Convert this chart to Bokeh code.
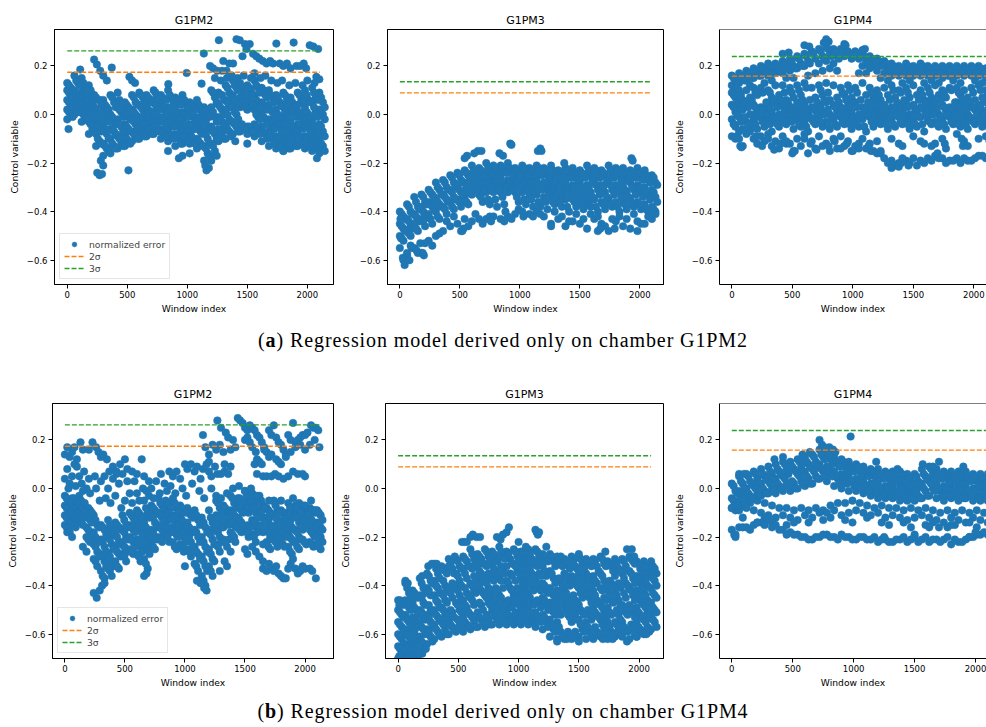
from bokeh.plotting import figure
from bokeh.layouts import row, column
from bokeh.models import (Range1d, FixedTicker, CustomJSTickFormatter, Legend,
                          LegendItem, Div, Span)
from bokeh.embed import file_html
from bokeh.resources import INLINE

BLUE = "#1f77b4"
ORANGE = "#ff7f0e"
GREEN = "#2ca02c"
N = None

# window indices on which the error traces are sampled (four interleaved grids)
WIN_A = [0, 60, 120, 180, 240, 300, 360, 420, 480, 540, 600, 660, 720, 780, 840, 900, 960, 1020,
         1080, 1140, 1200, 1260, 1320, 1380, 1440, 1500, 1560, 1620, 1680, 1740, 1800, 1860, 1920, 1980, 2040, 2100]
WIN_B = [30, 90, 150, 210, 270, 330, 390, 450, 510, 570, 630, 690, 750, 810, 870, 930, 990, 1050,
         1110, 1170, 1230, 1290, 1350, 1410, 1470, 1530, 1590, 1650, 1710, 1770, 1830, 1890, 1950, 2010, 2070, 2130]
WIN_C = [15, 75, 135, 195, 255, 315, 375, 435, 495, 555, 615, 675, 735, 795, 855, 915, 975, 1035,
         1095, 1155, 1215, 1275, 1335, 1395, 1455, 1515, 1575, 1635, 1695, 1755, 1815, 1875, 1935, 1995, 2055, 2115]
WIN_D = [45, 105, 165, 225, 285, 345, 405, 465, 525, 585, 645, 705, 765, 825, 885, 945, 1005, 1065,
         1125, 1185, 1245, 1305, 1365, 1425, 1485, 1545, 1605, 1665, 1725, 1785, 1845, 1905, 1965, 2025, 2085, 2145]

X_TICKS = [0, 500, 1000, 1500, 2000]
Y_TICKS = [-0.6, -0.4, -0.2, 0.0, 0.2]

# ---- (a) model derived on G1PM2 -------------------------------------------
A_G1PM2 = [
    [.13, .16, .15, .12, .07, .06,  .08, .09, .05, .08, .09, .08,  .10, .08, .10, .07, .08, .05,  .06, .03, .10, .09, .12, .14,  .13, .12, .14, .11, .10, .08,  .09, .07, .09, .10, .11, .09],
    [.11, .13, .11, .08, .06, .03,  .05, .04, .03, .05, .07, .06,  .08, .06, .07, .06, .04, .03,  .02, .01, .07, .08, .09, .11,  .09, .10, .11, .08, .07, .05,  .06, .04, .06, .06, .07, .05],
    [.10, .10, .09, .07, .02, .02,  .00, .03, .02, .02, .04, .04,  .06, .05, .03, .03, .01, .02,  -.01, -.02, .03, .04, .06, .08,  .07, .06, .08, .05, .04, .02,  .03, .02, .04, .03, .05, .02],
    [.08, .08, .07, .04, -.01, -.02,  -.03, .01, -.01, .00, .02, .01,  .03, .02, .01, .00, -.01, -.01,  -.03, -.05, -.01, .02, .04, .05,  .04, .05, .05, .03, .01, -.01,  .00, .01, -.01, .00, .01, .00],
    [.06, .07, .05, .02, -.03, -.04,  -.06, -.02, -.04, -.02, -.01, .01,  .01, -.01, -.02, -.03, -.02, -.04,  -.05, -.07, -.05, -.01, .02, .03,  .03, .02, .02, .01, -.02, -.03,  -.02, -.03, -.04, -.02, -.03, -.04],
    [.04, .05, .03, -.01, -.06, -.08,  -.07, -.05, -.06, -.04, -.03, -.02,  -.01, -.03, -.04, -.05, -.05, -.06,  -.07, -.10, -.08, -.03, -.02, .00,  N, N, -.01, -.02, -.05, -.05,  -.06, -.06, -.05, -.05, -.06, -.07],
    [.02, .03, .01, -.03, -.08, -.12,  -.10, -.09, -.09, -.07, -.05, -.05,  -.04, -.06, -.06, -.08, -.08, -.07,  -.10, -.13, -.12, -.06, -.05, -.03,  -.04, -.05, -.04, -.05, -.07, -.09,  -.09, -.08, -.08, -.09, -.09, -.10],
    [.00, .01, -.01, -.06, -.11, -.14,  -.13, -.12, -.11, -.09, -.08, -.07,  -.06, -.08, -.09, -.10, -.10, -.11,  -.12, -.16, -.15, -.08, -.07, -.05,  -.05, -.06, -.06, -.08, -.10, -.11,  -.12, -.11, -.11, -.11, -.12, -.13],
    [-.02, .00, -.03, -.08, -.13, -.17,  -.16, -.14, -.13, -.11, -.10, -.09,  -.08, -.10, -.11, -.13, -.12, -.12,  -.14, -.19, -.19, -.11, -.10, -.08,  -.07, -.08, -.09, -.11, -.13, -.14,  -.15, -.14, -.13, -.14, -.15, -.16],
]
A_G1PM2_FILL = [
    [.12, .14, .13, .10, .06, .04,  .07, .06, .04, .07, .08, .07,  .09, .07, .08, .06, .06, .04,  .04, .02, .09, .08, .11, .12,  .11, .11, .12, .10, .08, .07,  .08, .05, .08, .08, .09, .07],
    [.10, .12, .10, .08, .04, .02,  .03, .04, .02, .04, .05, .05,  .07, .06, .05, .04, .03, .02,  .00, -.01, .05, .06, .07, .10,  .08, .08, .09, .07, .05, .04,  .04, .03, .05, .05, .06, .03],
    [.09, .09, .08, .05, .00, .00,  -.01, .02, .00, .01, .03, .02,  .04, .03, .02, .01, .00, .00,  -.02, -.03, .01, .03, .05, .06,  .05, .05, .06, .04, .02, .00,  .01, .01, .01, .01, .03, .01],
    [.07, .07, .06, .03, -.02, -.03,  -.04, -.01, -.02, -.01, .00, .01,  .02, .00, -.01, -.02, -.01, -.03,  -.04, -.06, -.03, .00, .03, .04,  .03, .04, .03, .02, -.01, -.02,  -.01, -.01, -.03, -.01, -.01, -.02],
    [.05, .06, .04, .00, -.05, -.06,  -.06, -.04, -.05, -.03, -.02, -.01,  .00, -.02, -.03, -.04, -.04, -.05,  -.06, -.08, -.07, -.02, .00, .01,  N, N, .00, -.01, -.04, -.04,  -.04, -.05, -.04, -.04, -.05, -.05],
    [.03, .04, .02, -.02, -.07, -.10,  -.08, -.07, -.07, -.06, -.04, -.03,  -.03, -.04, -.05, -.06, -.07, -.06,  -.08, -.12, -.10, -.04, -.03, -.02,  N, N, -.02, -.04, -.06, -.07,  -.08, -.07, -.06, -.07, -.08, -.09],
    [.01, .02, .00, -.04, -.10, -.13,  -.12, -.10, -.10, -.08, -.07, -.06,  -.05, -.07, -.08, -.09, -.09, -.09,  -.11, -.14, -.13, -.07, -.06, -.04,  -.04, -.05, -.05, -.07, -.08, -.10,  -.10, -.10, -.09, -.10, -.11, -.12],
    [-.01, .01, -.02, -.07, -.12, -.15,  -.14, -.13, -.12, -.10, -.09, -.08,  -.07, -.09, -.10, -.12, -.11, -.12,  -.13, -.17, -.17, -.10, -.09, -.07,  -.06, -.07, -.08, -.10, -.12, -.13,  -.14, -.13, -.12, -.13, -.14, -.15],
]
A_G1PM2_EXTRA = [(11, -.06), (108, .185), (224, .226), (247, .206), (275, .18), (300, .16), (330, .14), (371, .193),
                 (518, .155), (540, .14), (565, .13), (842, .125), (995, .171), (1119, .127), (1138, .251), (1190, .20),
                 (1215, .19), (1250, .18), (1263, .306), (1290, .18), (1300, .22), (1327, .18), (1350, .21), (1382, .21),
                 (1410, .31), (1437, .306), (1460, .24), (1480, .29), (1493, .27), (1520, .29), (1548, .25), (1575, .24),
                 (1600, .23), (1630, .22), (1660, .21), (1690, .22), (1715, .21), (1742, .292), (1770, .21), (1800, .20),
                 (1830, .21), (1860, .19), (1886, .296), (1910, .20), (1940, .20), (1970, .21), (1990, .19), (2020, .285),
                 (2050, .28), (2075, .155), (2090, .27), (2100, .145), (250, -.24), (270, -.25), (290, -.245), (300, -.21),
                 (280, -.19), (510, -.23), (840, -.15), (930, -.18), (960, -.17), (1020, -.16), (1160, -.23), (1180, -.22),
                 (1150, -.21), (1400, -.11), (1500, -.12), (1800, -.15), (1850, -.12), (2080, -.18),
                 (1230, .15), (1280, .14), (1330, .15), (1370, .16), (1420, .15), (1470, .16), (1530, .15), (1560, .17),
                 (1610, .15), (1650, .16), (1700, .14), (1750, .13), (1790, .14), (1850, .12), (1900, .13), (1960, .12),
                 (2000, .14), (2060, .13)]

A_G1PM3 = [
    [-.40, -.37, -.34, -.33, -.31, -.28,  -.27, -.25, -.24, -.23, -.21, -.22,  -.20, -.21, -.21, -.20, -.22, -.21,  -.22, -.21, -.22, -.21, -.23, -.22,  -.22, -.23, -.21, -.22, -.23, -.21,  -.22, -.22, -.23, -.22, -.23, -.25],
    [-.42, -.40, -.38, -.36, -.33, -.31,  -.30, -.28, -.27, -.25, -.25, -.24,  -.24, -.24, -.23, -.24, -.24, -.24,  -.24, -.24, -.25, -.25, -.25, -.25,  -.26, -.25, -.25, -.25, -.25, -.25,  -.25, -.26, -.25, -.26, -.27, -.28],
    [-.45, -.43, -.41, -.38, -.36, -.35,  -.33, -.31, -.30, -.28, -.28, -.27,  -.27, -.27, -.26, -.27, -.27, -.27,  -.27, -.27, -.28, -.28, -.28, -.28,  -.29, -.28, -.29, -.28, -.29, -.28,  -.29, -.29, -.28, -.29, -.30, -.31],
    [-.47, -.46, -.43, -.41, -.38, -.37,  -.35, -.34, -.32, -.31, -.30, -.30,  -.29, -.29, -.29, -.29, -.29, -.30,  -.30, -.30, -.31, -.31, -.31, -.31,  -.32, -.32, -.32, -.31, -.32, -.31,  -.32, -.32, -.31, -.32, -.33, -.34],
    [-.50, -.48, -.45, -.43, -.41, -.40,  -.38, -.36, -.35, -.34, -.33, -.33,  -.32, -.32, -.32, -.32, -.32, -.32,  -.33, -.33, -.34, -.34, -.35, -.35,  -.35, -.35, -.36, -.35, -.36, -.35,  -.36, -.36, -.35, -.36, -.37, -.38],
    [-.52, -.50, -.48, -.46, -.45, -.43,  -.41, -.39, -.38, -.37, N, -.36,  -.37, -.38, -.37, N, -.36, -.37,  -.38, -.38, -.39, -.37, -.38, -.40,  -.38, -.39, -.38, -.40, -.39, -.38,  -.40, -.39, -.38, -.39, -.40, -.40],
    [-.55, -.58, -.55, -.57, -.52, -.50,  -.48, -.46, -.45, -.43, -.44, -.43,  -.43, -.42, -.43, -.42, -.41, -.40,  -.41, -.40, -.42, -.45, -.43, -.46,  -.44, -.45, -.47, -.43, -.45, -.48,  -.44, -.46, -.47, -.44, -.45, -.43],
    [-.60, -.54, -.57, -.53, -.54, -.49,  -.44, -.42, -.48, -.46, -.41, -.45,  -.42, N, -.44, -.43, -.39, N,  -.42, -.41, N, -.40, -.42, -.44,  -.41, -.43, -.41, -.42, -.46, -.43,  -.42, -.43, -.41, -.45, -.42, -.41],
]
A_G1PM3_FILL = [
    [-.41, -.38, -.36, -.34, -.32, -.30,  -.28, -.26, -.25, -.24, -.23, -.23,  -.22, -.22, -.22, -.22, -.23, -.22,  -.23, -.22, -.23, -.23, -.24, -.23,  -.24, -.24, -.23, -.23, -.24, -.23,  -.23, -.24, -.24, -.24, -.25, -.26],
    [-.43, -.41, -.39, -.37, -.34, -.33,  -.31, -.29, -.28, -.26, -.26, -.25,  -.25, -.25, -.24, -.25, -.25, -.25,  -.25, -.25, -.26, -.26, -.26, -.26,  -.27, -.26, -.27, -.26, -.27, -.26,  -.27, -.27, -.26, -.27, -.28, -.29],
    [-.46, -.44, -.42, -.40, -.37, -.36,  -.34, -.32, -.31, -.30, -.29, -.28,  -.28, -.28, -.28, -.28, -.28, -.28,  -.28, -.29, -.29, -.30, -.29, -.30,  -.30, -.30, -.30, -.29, -.30, -.29,  -.30, -.31, -.30, -.30, -.32, -.32],
    [-.48, -.47, -.44, -.42, -.39, -.38,  -.36, -.35, -.33, -.32, -.31, -.31,  -.30, -.31, -.30, -.31, -.30, -.31,  -.32, -.31, -.32, -.33, -.33, -.33,  -.33, -.34, -.34, -.33, -.34, -.33,  -.34, -.34, -.33, -.34, -.35, -.36],
    [-.51, -.49, -.47, -.44, -.43, -.42,  -.39, -.38, -.36, -.36, N, -.34,  -.35, -.35, -.34, N, -.34, -.35,  -.35, -.36, -.36, -.36, -.36, -.38,  -.36, -.37, -.37, -.38, -.37, -.37,  -.38, -.37, -.37, -.37, -.39, -.39],
]
A_G1PM3_EXTRA = [(40, -.62), (25, -.59), (10, -.51), (5, -.43), (200, -.58), (190, -.57), (520, -.48), (530, -.47),
                 (540, -.18), (560, -.17), (620, -.16), (650, -.15), (680, -.15), (830, -.16), (860, -.17), (920, -.12),
                 (930, -.125), (1150, -.15), (1170, -.14), (1180, -.15), (1370, -.20), (1930, -.18), (1940, -.19),
                 (1650, -.48), (1670, -.47), (1260, -.46), (1790, -.47), (1980, -.48), (760, -.44), (880, -.40),
                 (1030, -.42), (100, -.55), (140, -.56), (170, -.53), (80, -.60), (60, -.57)]

A_G1PM4 = [
    [.16, .17, .18, .19, .20, .21,  .21, .22, .23, .24, .25, .26,  .27, .28, .27, .27, .26, .26,  .25, .24, .23, .22, .21, .20,  .21, .20, .21, .20, .20, .20,  .20, .20, .20, .20, .20, .19],
    [.14, .15, .16, .17, .18, .18,  .19, .20, .20, .21, .22, .23,  .24, .25, .24, .24, .23, .23,  .22, .21, .21, .19, .19, .18,  .18, .18, .18, .18, .18, .17,  .18, .18, .17, .18, .18, .17],
    [.12, .13, .14, .15, .16, .16,  .17, .17, .18, .19, .20, N,  .21, .22, .21, N, N, N,  .20, .19, .18, .17, .16, .16,  .16, .16, .16, .16, .16, .15,  .16, .16, .16, .16, .16, .15],
    [.10, N, .12, N, .13, .14,  N, .15, .15, N, .16, .17,  .18, .19, .18, N, N, .17,  .17, N, .15, .14, N, .13,  .14, N, .13, .14, .13, N,  .14, .13, N, .14, .13, .12],
    [.09, .10, .10, .11, .11, .10,  .12, .12, .11, .12, .13, .11,  .12, .13, .12, .11, .12, .11,  .13, .11, .10, .11, .12, .10,  .11, .12, .10, .11, .12, .10,  .11, .11, .10, .11, .12, .10],
    [.07, .06, .07, .08, N, .07,  .08, .06, .07, .08, N, .07,  .08, .06, .07, .08, .07, N,  .08, .07, .06, .08, .07, N,  .07, .08, .06, .07, .08, .07,  N, .08, .07, .06, .07, .08],
    [.04, .03, .05, .04, .03, .04,  .05, .04, .03, .05, .04, .03,  .04, .05, .04, .03, .04, .05,  .03, .04, .05, .04, .03, .04,  .05, .04, .03, .05, .04, .04,  .03, .05, .04, .03, .04, .05],
    [.01, .02, .00, .01, .02, .01,  .00, .01, .02, .01, .00, .02,  .01, .00, .01, .02, .01, .00,  .01, .02, .01, .00, .01, .02,  .00, .01, .02, .01, .00, .01,  .02, .01, .00, .02, .01, .00],
    [-.02, -.01, -.03, -.02, -.01, -.02,  -.03, -.02, -.01, -.02, -.03, -.02,  -.01, -.03, -.02, -.01, -.02, -.03,  -.02, -.01, -.02, -.03, -.02, -.01,  -.02, -.03, -.01, -.02, -.03, -.02,  -.01, -.02, -.03, -.02, -.01, -.02],
    [-.05, -.06, -.04, -.06, -.05, -.07,  -.05, -.04, -.06, -.05, -.07, -.04,  -.05, -.06, -.05, -.04, -.06, -.05,  -.07, -.05, -.04, -.06, -.05, -.04,  -.06, -.05, -.07, -.04, -.05, -.06,  -.04, -.05, -.06, -.04, -.05, -.06],
    [-.09, -.07, -.08, -.10, -.09, -.08,  -.11, -.09, -.12, -.10, -.08, -.11,  -.09, -.12, -.10, -.09, -.11, -.13,  -.10, -.12, -.11, N, -.10, -.12,  N, -.09, -.11, N, -.12, -.10,  N, -.08, -.11, N, -.10, -.09],
    [-.10, -.13, -.06, -.12, -.11, -.13,  -.14, -.12, -.15, -.13, -.16, -.14,  -.13, -.15, -.14, -.13, -.15, -.12,  -.14, -.15, -.16, N, N, -.13,  N, N, -.12, N, N, -.14,  N, N, -.13, N, N, -.11],
    [N] * 21 + [-.18, -.19, -.20,  -.19, -.18, -.19, -.18, -.17, -.18,  -.19, -.18, -.18, -.19, -.17, -.18],
    [N] * 21 + [-.20, -.21, -.18,  -.20, -.21, -.20, -.19, -.18, -.20,  -.19, -.20, -.19, -.18, -.17, -.17],
]
A_G1PM4_FILL = [
    [.15, .16, .17, .18, .19, .20,  .20, .21, .22, .23, .24, .25,  .26, .27, .26, .26, .25, .25,  .24, .23, .22, .21, .20, .19,  .20, .19, .20, .19, .19, .19,  .19, .19, .19, .19, .19, .18],
    [.13, .14, .15, .16, .17, .17,  .18, .19, .19, .20, .21, N,  .23, .24, .23, N, N, N,  .21, .20, .20, .18, .18, .17,  .17, .17, .17, .17, .17, .16,  .17, .17, .17, .17, .17, .16],
    [.08, .08, N, .09, .09, .09,  N, .09, .09, .10, .11, N,  .10, .09, N, .09, .10, .09,  N, .09, .08, N, .10, .09,  .09, N, .08, .09, N, .09,  .10, .09, N, .09, .10, .09],
    [.05, .05, .06, N, .05, .06,  .06, .05, N, .06, .06, .05,  .06, N, .05, .06, .05, .06,  .05, .06, N, .06, .05, .06,  N, .06, .05, .06, .06, N,  .05, .06, .05, N, .06, .06],
    [.03, .02, .03, .03, .02, .03,  .03, .02, .03, .03, .02, .02,  .03, .02, .03, .02, .03, .03,  .02, .03, .03, .02, .02, .03,  .03, .02, .03, .03, .02, .03,  .02, .03, .02, .03, .03, .02],
    [.00, -.01, .00, -.01, .00, -.01,  -.01, .00, .00, -.01, -.01, .00,  .00, -.01, .00, .00, -.01, -.01,  .00, .00, -.01, -.01, .00, .00,  -.01, -.01, .00, .00, -.01, .00,  .00, -.01, -.01, .00, .00, -.01],
    [-.04, -.03, -.04, -.04, -.03, -.04,  -.04, -.03, -.03, -.04, -.05, -.03,  -.03, -.04, -.04, -.03, -.04, -.04,  -.05, -.03, -.03, -.04, -.04, -.03,  -.04, -.04, -.04, -.03, -.04, -.04,  -.03, -.04, -.04, -.03, -.03, -.04],
]
A_G1PM4_EXTRA = [(70, -.13), (80, -.135), (600, .285), (640, .28), (780, .31), (800, .30), (760, .295), (930, .29),
                 (940, .285), (1100, .27), (1080, .265), (420, .25), (470, .255), (1320, -.22), (1380, -.215),
                 (1400, -.20), (1460, -.21), (250, -.13), (350, -.145), (500, -.16), (520, -.15), (700, -.145),
                 (900, -.14), (1000, -.15), (1130, -.13), (1200, -.16), (1230, -.15), (1650, -.13), (1700, -.16),
                 (1760, -.12), (1900, -.10), (1910, -.13), (20, -.04), (40, -.09), (60, -.10), (150, -.07), (200, -.09),
                 (300, -.10), (400, -.12), (450, -.11), (600, -.10), (650, -.12), (800, -.13), (850, -.11), (950, -.12),
                 (1050, -.14), (1150, -.15)]

# ---- (b) model derived on G1PM4 -------------------------------------------
B_G1PM2 = [
    [-.03, -.04, -.03, -.08, -.11, -.15,  -.13, -.14, -.11, -.10, -.09, -.05,  -.07, -.04, -.05, -.04, -.07, -.08,  -.09, -.12, -.09, -.05, -.07, -.03,  -.04, -.01, -.02, -.03, -.08, -.05,  -.09, -.06, -.07, -.07, -.08, -.09],
    [-.05, -.05, -.06, -.09, -.15, -.17,  -.17, -.16, -.15, -.12, -.11, -.10,  -.09, -.07, -.07, -.08, -.09, -.11,  -.13, -.16, -.14, -.08, -.09, -.06,  -.05, -.05, -.04, -.07, -.10, -.09,  -.10, -.10, -.09, -.10, -.09, -.11],
    [-.07, -.07, -.07, -.11, -.18, -.21,  -.20, -.19, -.17, -.15, -.14, -.14,  -.11, -.10, -.09, -.11, -.12, -.14,  -.17, -.20, -.17, -.11, -.11, -.09,  -.07, -.07, -.07, -.09, -.12, -.11,  -.13, -.13, -.11, -.12, -.12, -.14],
    [-.09, -.09, -.09, -.13, -.21, -.24,  -.23, -.22, -.20, -.17, -.17, -.18,  -.14, -.12, -.12, -.14, -.15, -.17,  -.20, -.24, -.21, -.14, -.14, -.11,  -.09, -.10, -.10, -.12, -.15, -.14,  N, -.16, -.14, -.14, -.14, -.16],
    [-.11, -.10, -.10, -.16, -.23, -.27,  -.27, -.24, -.22, -.20, -.21, -.21,  -.17, -.15, -.14, -.16, -.17, -.19,  -.24, -.28, -.25, -.17, -.16, -.13,  -.12, N, -.13, -.15, -.17, -.16,  -.17, -.18, -.17, -.17, -.17, -.18],
    [-.13, -.12, -.12, -.18, -.26, -.30,  -.30, -.27, -.25, -.22, -.24, -.25,  -.20, -.17, -.17, -.19, -.20, -.22,  -.27, -.32, -.29, -.20, N, -.15,  -.14, -.15, -.16, -.18, -.20, -.19,  -.19, -.21, -.20, N, -.19, -.20],
    [-.15, -.14, -.13, -.20, -.29, -.34,  -.33, -.30, -.27, -.25, -.27, -.29,  -.22, -.20, -.19, -.22, -.23, -.25,  -.31, -.36, -.32, -.23, -.21, -.18,  -.16, -.17, -.19, N, -.22, -.21,  -.22, -.24, -.22, -.21, -.22, -.23],
    [-.17, -.16, -.15, -.22, -.32, -.37,  -.36, -.33, -.30, -.27, -.30, -.33,  -.25, -.22, -.22, -.25, -.26, -.28,  -.34, -.40, -.36, -.26, -.24, -.20,  -.18, -.20, -.22, -.23, -.25, -.24,  -.24, -.27, -.25, -.23, -.24, -.25],
]
B_G1PM2_FILL = [
    [-.04, -.04, -.05, -.08, -.13, -.16,  -.15, -.15, -.13, -.11, -.10, -.08,  -.08, -.06, -.06, -.06, -.08, -.10,  -.11, -.14, -.12, -.06, -.08, -.04,  -.04, -.03, -.03, -.05, -.09, -.07,  -.10, -.08, -.08, -.08, -.09, -.10],
    [-.06, -.06, -.06, -.10, -.16, -.19,  -.18, -.17, -.16, -.13, -.12, -.12,  -.10, -.09, -.08, -.10, -.10, -.12,  -.15, -.18, -.16, -.10, -.10, -.08,  -.06, -.06, -.06, -.08, -.11, -.10,  -.12, -.12, -.10, -.11, -.10, -.13],
    [-.08, -.08, -.08, -.12, -.20, -.22,  -.21, -.20, -.18, -.16, -.15, -.16,  -.12, -.11, -.10, -.12, -.13, -.16,  -.18, -.22, -.19, -.12, -.12, -.10,  -.08, -.08, -.08, -.10, -.13, -.12,  -.14, -.14, -.12, -.13, -.13, -.15],
    [-.10, -.10, -.10, -.14, -.22, -.26,  -.25, -.23, -.21, -.18, -.19, -.20,  -.16, -.13, -.13, -.15, -.16, -.18,  -.22, -.26, -.23, -.16, -.15, -.12,  -.10, N, -.12, -.14, -.16, -.15,  -.16, -.17, -.16, -.15, -.16, -.17],
    [-.12, -.11, -.11, -.17, -.24, -.28,  -.28, -.26, -.24, -.21, -.22, -.23,  -.18, -.16, -.16, -.18, -.18, -.20,  -.26, -.30, -.27, -.18, N, -.14,  -.13, N, -.14, -.16, -.18, -.18,  -.18, -.20, -.18, N, -.18, -.19],
    [-.14, -.13, -.12, -.19, -.28, -.32,  -.32, -.28, -.26, -.24, -.26, -.27,  -.21, -.18, -.18, -.20, -.22, -.24,  -.29, -.34, -.30, -.22, -.21, -.16,  -.15, -.16, -.18, N, -.21, -.20,  -.20, -.22, -.21, N, -.20, -.22],
    [-.16, -.15, -.14, -.21, -.30, -.36,  -.34, -.32, -.28, -.26, -.28, -.31,  -.24, -.21, -.20, -.24, -.24, -.26,  -.32, -.38, -.34, -.24, -.22, -.19,  -.17, -.18, -.20, N, -.24, -.22,  -.23, -.26, -.24, -.22, -.23, -.24],
]
B_G1PM2_EXTRA = [
    # upper-left group
    (0, .14), (20, .17), (40, .13), (60, .15), (80, .17), (100, .12), (130, .19), (150, .16), (200, .16), (230, .19),
    (260, .17), (280, .15), (300, .13), (320, .14), (350, .12), (370, .07), (400, .09), (430, .07), (460, .10),
    (500, .12), (520, .08), (560, .07), (600, .06), (640, .12), (660, .05), (700, .03),
    # middle scatter
    (0, .04), (20, .08), (40, .02), (60, .05), (80, .10), (100, .09), (120, .05), (140, .02), (160, .07), (180, .00),
    (200, .04), (250, .05), (300, .03), (330, .05), (360, .00), (400, .04), (430, .06), (450, .02), (480, .06),
    (520, .03), (540, -.02), (580, .03), (620, -.05), (650, .00), (700, -.03), (760, .03), (800, .06), (830, .02),
    (870, .07), (900, .05), (930, .07), (960, .04), (1000, .10), (1020, .08), (1050, .10), (1080, .07), (1100, .09),
    (1130, .04), (1150, .08), (1180, .10), (1200, .07), (380, -.06), (420, -.03), (470, -.08), (500, -.05),
    (560, -.06), (600, -.02), (680, -.01), (720, .00), (740, -.04), (790, -.02), (850, -.01), (880, .01), (920, -.02),
    (980, .00), (1010, -.03), (1060, .02), (1120, -.01), (1160, -.04), (1220, .00), (30, .00), (90, .01), (150, -.01),
    (210, -.02), (260, .00), (290, -.05), (340, -.04),
    # upper band on the right
    (1150, .22), (1170, .17), (1200, .14), (1230, .18), (1260, .16), (1270, .28), (1290, .18), (1300, .25),
    (1320, .15), (1340, .23), (1360, .21), (1380, .16), (1400, .20), (1420, .17), (1440, .29), (1460, .28),
    (1480, .27), (1500, .25), (1520, .24), (1540, .26), (1560, .25), (1580, .24), (1600, .22), (1620, .21),
    (1640, .19), (1660, .17), (1680, .15), (1700, .24), (1720, .22), (1740, .26), (1760, .21), (1780, .19),
    (1800, .18), (1820, .16), (1840, .14), (1860, .22), (1880, .20), (1900, .27), (1920, .19), (1940, .20),
    (1960, .21), (1980, .22), (2000, .22), (2020, .23), (2050, .26), (2070, .25), (2090, .25), (2110, .24),
    (2120, .17), (1500, .20), (1520, .21), (1540, .19), (1560, .17), (1590, .15), (1600, .12), (1620, .11),
    (1640, .10), (1660, .16), (1700, .13), (1720, .14), (1760, .12), (1780, .11), (1800, .10), (1840, .13),
    (1880, .15), (1920, .17), (1960, .18), (2000, .16), (2040, .18), (2080, .20),
    (1270, .06), (1300, .06), (1330, .07), (1360, .06), (1380, .09), (1580, .10), (1600, .06), (1650, .05),
    (1680, .05), (1720, .05), (1750, .06), (1780, .05), (1820, .04), (1860, .05), (1900, .07), (1940, .06),
    (1980, .06), (2000, .05), (1330, .10), (1250, .09), (1220, .05), (1200, .11),
    (1260, -.03), (1300, -.04), (1350, -.02), (1400, .00), (1450, .01), (1500, -.01), (1550, .00), (1600, -.03),
    (1700, -.05), (1750, -.06), (1800, -.05), (1900, -.04), (1950, -.06), (2000, -.07), (2050, -.05), (2090, -.09),
    # lower streaks and extremes
    (1560, -.24), (1590, -.26), (1620, -.28), (1650, -.30), (1500, -.25), (1520, -.27), (1650, -.33), (1680, -.34),
    (1700, -.31), (1720, -.33), (1740, -.34), (1760, -.32), (1780, -.35), (1800, -.36), (1820, -.37), (1840, -.37),
    (1860, -.33), (1880, -.31), (1900, -.29), (1920, -.33), (1940, -.35), (1960, -.34), (1980, -.32), (2000, -.33),
    (2040, -.33), (2060, -.34), (2090, -.37), (2100, -.23), (2110, -.20), (1290, -.34), (1330, -.30), (1350, -.32),
    (1380, -.26), (1420, -.22), (240, -.43), (265, -.45), (290, -.42), (310, -.40), (330, -.39), (1180, -.42),
    (1160, -.41), (1130, -.39), (1100, -.38), (20, -.18), (40, -.18), (60, -.20), (150, -.24), (180, -.26),
    (660, -.36), (680, -.35), (1000, -.32)]

B_G1PM3 = [
    [-.46, -.39, -.42, -.37, -.35, -.31,  -.32, -.29, -.29, -.28, -.25, -.27,  -.25, -.26, -.24, -.26, -.25, -.26,  -.25, -.25, -.27, -.27, -.28, -.29,  -.28, -.28, -.29, -.29, -.28, -.30,  -.29, -.29, -.28, -.30, -.30, -.31],
    [-.47, -.43, -.44, -.41, -.38, -.35,  -.34, -.33, -.32, -.30, -.29, -.29,  -.28, -.28, -.28, -.29, -.28, -.28,  -.29, -.28, -.29, -.30, -.31, -.31,  -.32, -.31, -.31, -.32, -.31, -.32,  -.33, -.32, -.30, -.33, -.34, -.33],
    [-.50, -.46, -.47, -.44, -.41, -.38,  N, N, -.35, -.33, -.32, -.32,  -.31, -.31, N, -.32, -.31, -.31,  -.32, -.31, -.32, -.34, N, -.35,  -.36, -.35, -.35, -.36, -.35, N,  -.36, -.35, -.34, -.36, -.37, -.36],
    [-.52, -.49, -.50, -.47, -.44, -.41,  -.40, -.39, -.38, -.37, -.36, -.35,  -.35, -.34, -.34, -.35, -.34, -.34,  -.35, -.35, -.36, -.37, -.38, -.38,  -.39, -.38, -.38, -.39, -.38, -.39,  -.39, -.39, -.37, -.39, -.40, -.38],
    [-.55, -.52, -.53, -.50, N, -.44,  -.43, -.42, -.41, N, -.39, -.38,  -.38, -.37, -.37, -.38, N, -.37,  -.38, -.38, -.39, -.41, -.42, -.42,  N, -.41, -.42, -.42, -.41, -.42,  -.42, N, -.41, -.42, -.43, -.41],
    [-.57, -.55, -.56, -.53, -.50, -.47,  -.46, -.45, -.44, -.43, -.42, -.42,  -.41, -.41, -.41, -.41, -.41, -.41,  -.41, -.41, -.42, -.44, -.45, -.45,  -.46, -.45, -.45, -.46, -.45, -.46,  -.46, -.45, -.44, -.46, -.46, -.44],
    [-.60, -.58, -.58, -.55, -.52, -.50,  -.49, N, -.47, -.46, -.45, N,  -.44, -.44, -.44, N, -.44, -.44,  -.44, N, -.45, -.47, -.48, -.48,  -.49, -.48, N, -.49, -.48, -.49,  N, -.48, -.48, -.49, -.48, -.47],
    [-.62, -.61, -.61, -.58, -.55, -.53,  -.52, -.51, -.50, -.49, -.48, -.48,  -.47, -.47, -.47, -.47, -.47, -.47,  -.47, -.47, -.48, -.51, -.52, -.52,  -.52, -.51, -.52, -.52, -.51, -.52,  -.52, -.51, -.51, -.52, -.51, -.50],
    [-.65, -.64, -.64, -.61, -.58, -.56,  -.55, -.54, N, -.53, -.52, -.51,  N, -.50, -.50, -.50, N, -.50,  -.50, -.51, -.52, -.54, -.55, N,  -.55, -.54, -.55, N, -.54, -.55,  -.55, -.55, N, -.55, -.54, -.52],
    [-.67, -.67, -.67, -.64, -.61, -.59,  -.58, -.57, -.56, -.56, -.55, -.54,  -.54, -.53, -.53, -.53, -.53, -.53,  -.53, -.54, -.55, -.58, -.59, -.59,  -.59, -.58, -.59, -.59, -.58, -.59,  -.58, -.58, -.58, -.58, -.57, -.55],
    [-.70, -.70, -.70, -.67, -.64, -.62,  -.61, -.60, -.59, -.59, -.58, -.57,  -.57, -.56, -.56, -.56, -.56, -.56,  -.56, -.57, -.58, -.61, -.62, -.62,  -.62, -.61, -.62, -.62, -.61, -.62,  -.61, -.61, -.62, -.61, -.60, -.58],
]
B_G1PM3_FILL = [
    [-.46, -.41, -.43, -.39, -.36, -.33,  -.33, -.31, -.30, -.29, -.27, -.28,  -.26, -.27, -.26, -.27, -.26, -.27,  -.27, -.26, -.28, -.28, -.29, -.30,  -.30, -.29, -.30, -.30, -.29, -.31,  -.31, -.30, -.29, -.31, -.32, -.32],
    [-.48, -.45, -.45, -.43, -.39, -.37,  -.35, -.35, -.33, -.32, -.30, -.31,  -.29, -.30, -.29, -.31, -.29, -.30,  -.30, -.30, -.30, -.32, -.32, -.33,  -.33, -.33, -.32, -.34, -.32, -.34,  -.34, -.34, -.31, -.35, -.35, -.35],
    [-.51, -.47, -.49, -.45, -.42, -.40,  -.38, N, -.36, -.35, -.33, -.34,  -.32, -.33, -.32, N, -.32, -.33,  -.33, -.32, -.34, -.35, -.37, -.36,  -.37, -.37, -.36, -.38, -.36, -.38,  N, -.37, -.35, -.37, -.38, -.37],
    [-.53, -.50, -.52, -.48, N, -.43,  -.41, -.40, -.40, N, -.37, -.37,  -.36, -.36, -.35, -.36, -.35, -.36,  -.36, -.36, N, -.39, -.40, -.40,  -.40, -.40, -.40, N, -.40, -.40,  -.41, -.40, -.39, -.41, -.41, -.40],
    [-.56, -.54, -.54, -.51, -.48, -.46,  -.44, -.43, -.42, -.41, -.40, -.40,  -.39, -.38, -.38, -.39, -.38, -.39,  -.39, -.39, -.40, -.42, -.43, -.43,  -.44, -.43, -.43, -.44, -.42, -.44,  -.44, -.43, -.42, -.44, -.44, -.43],
    [-.59, -.56, -.57, -.54, -.51, -.49,  -.47, N, -.46, -.44, -.43, -.43,  -.42, -.42, N, -.42, -.42, -.43,  -.42, -.42, -.43, -.46, -.46, -.47,  -.47, N, -.47, -.47, -.46, -.47,  -.48, N, -.46, -.47, -.47, -.45],
    [-.61, -.60, -.59, -.57, -.53, -.52,  -.50, -.50, -.48, -.48, -.46, -.47,  -.45, -.46, -.45, -.46, -.45, -.46,  -.45, -.46, -.46, -.49, -.50, -.50,  -.50, -.50, -.50, -.51, -.49, -.51,  -.50, -.50, -.49, -.51, -.49, -.49],
    [-.64, -.62, -.63, -.60, -.57, -.54,  -.53, -.53, -.51, -.51, N, -.50,  -.48, -.49, -.48, -.49, -.48, -.49,  -.48, -.49, -.50, -.52, N, -.53,  -.54, -.52, -.54, -.53, -.53, N,  -.54, -.52, -.53, -.53, -.53, -.51],
    [-.66, -.66, -.65, -.63, -.59, -.58,  -.56, -.56, -.54, -.55, -.53, -.53,  -.52, -.52, -.51, -.52, -.51, -.52,  -.51, -.53, -.53, -.56, -.57, N,  N, -.56, -.57, -.57, -.56, -.57,  -.56, -.57, -.56, -.57, -.55, -.54],
    [-.69, -.68, -.69, -.66, -.63, -.60,  -.60, -.58, -.58, -.57, -.57, -.55,  -.56, -.54, -.55, -.54, -.55, -.54,  -.55, -.55, -.57, -.59, -.61, -.60,  -.61, -.59, -.61, -.60, -.60, -.60,  -.60, -.59, -.60, -.59, -.59, -.57],
]
B_G1PM3_EXTRA = [(530, -.22), (550, -.22), (570, -.22), (600, -.20), (620, -.19), (650, -.20), (680, -.20), (820, -.20),
                 (850, -.21), (870, -.19), (900, -.18), (920, -.16), (1000, -.22), (1060, -.24), (1140, -.17),
                 (1150, -.18), (1160, -.19), (1170, -.18), (1230, -.24), (1350, -.28), (1500, -.27), (1720, -.26),
                 (1900, -.25), (1940, -.25), (1960, -.28), (2100, -.30), (60, -.38), (80, -.39), (40, -.47), (10, -.48),
                 (200, -.36), (250, -.32), (280, -.31), (320, -.31), (350, -.33), (420, -.32), (470, -.28),
                 (1320, -.63), (1400, -.62), (1500, -.63), (1700, -.62), (1780, -.62), (1900, -.63), (1980, -.61),
                 (2060, -.60), (200, -.68), (230, -.66), (150, -.69), (100, -.69), (10, -.69), (30, -.68), (50, -.70),
                 (70, -.69), (90, -.68), (110, -.69), (130, -.70), (170, -.68), (45, -.66), (85, -.65), (125, -.66),
                 (165, -.66)]

B_G1PM4 = [
    [.02, .05, .06, .07, .08, .09,  .10, .11, .11, .12, .13, .14,  .16, .15, .13, .12, .11, .10,  .09, .08, .08, .07, .07, .07,  .06, .06, .08, .09, .08, .07,  .07, .07, .07, .06, .06, .06],
    [-.01, .02, .03, .04, .05, .06,  .07, .08, .08, .09, .10, .11,  .13, .12, .10, .09, .08, .07,  .06, .05, .05, .04, .04, .04,  .03, .03, .05, .06, .05, .04,  .04, .04, .04, .03, .03, .03],
    [-.04, -.01, .00, .01, .02, .03,  .04, .05, N, .06, .07, .08,  .10, .09, .07, .06, .05, .04,  .03, .02, .02, .01, .01, .01,  .00, .00, .02, .03, .02, .01,  .01, .01, .01, .00, .00, .00],
    [-.06, -.03, -.03, -.02, -.01, .00,  .01, .02, .02, .03, .04, .05,  .07, .06, .04, .03, N, .01,  .00, -.01, -.01, -.02, -.02, -.02,  -.03, -.03, -.01, .00, -.01, -.02,  -.02, -.02, -.02, -.03, -.03, -.03],
    [-.08, -.05, -.05, -.04, -.03, -.02,  -.02, -.01, -.01, .00, .01, .02,  .04, .03, .01, .00, -.01, -.01,  -.02, -.03, -.04, -.04, -.04, -.05,  -.05, -.05, -.04, -.03, -.04, -.05,  -.04, -.05, -.04, -.05, -.05, -.05],
    [-.09, -.07, -.06, -.05, -.06, -.07,  -.08, -.08, -.09, -.08, -.09, -.08,  -.09, -.07, -.06, -.06, -.05, -.06,  -.07, -.08, -.07, -.08, -.08, -.09,  -.08, -.09, -.08, -.09, -.10, -.09,  -.10, -.09, -.10, -.09, -.10, -.10],
    [-.08, -.09, -.08, -.09, -.10, -.11,  -.12, -.11, -.12, -.13, -.11, -.12,  -.10, -.10, -.09, -.11, -.10, -.09,  -.10, -.11, -.10, -.12, -.11, -.12,  -.13, -.12, -.11, -.12, -.13, -.14,  -.12, -.13, -.14, -.12, -.13, -.14],
    [N, -.12, N, -.14, -.12, -.14,  N, -.15, -.14, N, -.14, N,  -.13, -.12, N, -.13, -.14, N,  -.12, N, -.14, -.15, N, -.14,  -.16, N, -.15, -.14, N, -.16,  -.15, N, -.14, -.16, N, -.15],
    [-.17, -.16, -.16, -.15, -.14, -.13,  -.15, -.17, -.18, -.19, -.20, -.21,  -.20, -.19, -.20, -.19, -.20, -.21,  -.20, -.21, -.22, -.21, -.22, -.21,  -.22, -.20, -.21, -.22, -.21, -.21,  -.23, -.22, -.21, -.20, -.19, -.19],
    [-.19, -.16, -.17, -.14, -.15, -.16,  -.17, -.19, -.19, -.20, -.21, -.20,  -.19, -.20, -.21, -.20, -.21, -.20,  -.21, -.20, -.21, -.22, -.21, -.20,  -.21, -.22, -.20, -.21, -.22, -.20,  -.21, -.22, -.20, -.19, -.18, N],
]
B_G1PM4_FILL = [
    [.01, .03, .05, .06, .06, .07,  .08, .10, .09, .11, .11, .13,  .14, .14, .11, .11, .09, .09,  .07, .07, .06, .06, .05, .06,  .04, .05, .06, .08, .06, .06,  .05, .06, .05, .05, .04, .05],
    [-.02, .00, .02, .02, .04, .04,  .06, .06, .07, .07, .09, .09,  .12, .10, .09, .07, .07, .05,  .05, .03, .04, .02, .03, .02,  .02, .01, .04, .04, .04, .02,  .03, .02, .03, .01, .02, .01],
    [-.05, -.02, -.02, .00, .00, .02,  .02, .04, .03, .05, .05, .07,  .08, .08, .05, .05, .03, .03,  .01, .01, .00, .00, -.01, .00,  -.02, -.01, .00, .02, .00, .00,  -.01, .00, -.01, -.01, -.02, -.01],
    [-.07, -.04, -.04, -.03, -.02, -.01,  .00, .01, .00, .02, .02, .04,  .05, .05, .02, .02, .01, .00,  -.01, -.02, -.03, -.03, -.03, -.04,  -.04, -.04, -.03, -.01, -.03, -.03,  -.03, -.04, -.03, -.04, -.04, -.04],
]
B_G1PM4_EXTRA = [(20, -.19), (30, -.20), (720, .20), (740, .18), (760, .17), (975, .214), (420, .13), (350, .12),
                 (60, .06), (100, .06), (1185, .11), (1567, .10), (1650, .09), (1700, .11), (1900, .09), (580, .14),
                 (640, .15), (800, .17), (830, .16), (850, .15), (1360, .08), (1250, -.20), (1620, -.16), (1700, -.16),
                 (1800, -.15), (2000, -.18), (1950, -.20), (1500, -.19)]

# 2-sigma / 3-sigma control limits of each chamber
SIGMA2 = {"G1PM2": 0.174, "G1PM3": 0.089, "G1PM4": 0.158}
SIGMA3 = {"G1PM2": 0.262, "G1PM3": 0.135, "G1PM4": 0.239}

FONT = "DejaVu Sans"

y_fmt_code = "return (tick < 0 ? '\u2212' : '') + Math.abs(tick).toFixed(1);"


def collect(traces, grids):
    xs, ys = [], []
    for i, tr in enumerate(traces):
        grid = grids[i % 2]
        for x, y in zip(grid, tr):
            if y is not None:
                xs.append(x)
                ys.append(y)
    return xs, ys


def make_panel(name, traces, fills, extra, line_end, xr, frame_w, b_left, b_right, b_top, b_bottom,
               legend=False, open_right=False):
    p = figure(output_backend="svg", toolbar_location=None,
               frame_width=frame_w, frame_height=255,
               x_range=Range1d(*xr), y_range=Range1d(-0.70, 0.35),
               min_border_left=b_left, min_border_right=b_right,
               min_border_top=b_top, min_border_bottom=b_bottom,
               background_fill_color="white", border_fill_color="white")
    p.title.text = name
    p.title.align = "center"
    p.title.text_font = FONT
    p.title.text_font_size = "11px"
    p.title.text_font_style = "normal"
    p.title.text_color = "#000000"
    p.title.standoff = 5

    xs, ys = collect(traces, (WIN_A, WIN_B))
    fx, fy = collect(fills, (WIN_C, WIN_D))
    xs += fx
    ys += fy
    for x, y in extra:
        xs.append(x)
        ys.append(y)
    pts = p.scatter(xs, ys, size=7.6, fill_color=BLUE, line_color=BLUE, line_width=0.5)

    s2, s3 = SIGMA2[name], SIGMA3[name]
    l2 = p.line([0, line_end], [s2, s2], line_color=ORANGE, line_width=1.4, line_dash="5 2")
    l3 = p.line([0, line_end], [s3, s3], line_color=GREEN, line_width=1.4, line_dash="5 2")

    p.xgrid.visible = False
    p.ygrid.visible = False
    if open_right:
        p.outline_line_color = None
        p.add_layout(Span(location=0.35, dimension="width", line_color="#000000", line_width=1))
    else:
        p.outline_line_color = "#000000"
        p.outline_line_width = 1
        p.outline_line_alpha = 1

    p.xaxis.ticker = FixedTicker(ticks=X_TICKS)
    p.yaxis.ticker = FixedTicker(ticks=Y_TICKS)
    p.yaxis.formatter = CustomJSTickFormatter(code=y_fmt_code)
    p.xaxis.axis_label = "Window index"
    p.yaxis.axis_label = "Control variable"
    for ax in (p.xaxis[0], p.yaxis[0]):
        ax.axis_line_color = "#000000"
        ax.axis_line_width = 1
        ax.major_tick_line_color = "#000000"
        ax.major_tick_out = 4
        ax.major_tick_in = 0
        ax.minor_tick_line_color = None
        ax.major_label_text_font = FONT
        ax.major_label_text_font_size = "8.5px"
        ax.major_label_text_color = "#000000"
        ax.axis_label_text_font = FONT
        ax.axis_label_text_font_size = "9.2px"
        ax.axis_label_text_font_style = "normal"
        ax.axis_label_text_color = "#000000"
    p.xaxis.major_label_standoff = 2
    p.xaxis.axis_label_standoff = 2
    p.yaxis.major_label_standoff = 3
    p.yaxis.axis_label_standoff = 4

    if legend:
        lg = Legend(items=[LegendItem(label="normalized error", renderers=[pts]),
                           LegendItem(label="2\u03c3", renderers=[l2]),
                           LegendItem(label="3\u03c3", renderers=[l3])],
                    location="bottom_left", margin=5, padding=4, spacing=0,
                    glyph_width=20, glyph_height=12, label_height=12, label_standoff=5,
                    label_text_font=FONT, label_text_font_size="9.2px",
                    border_line_color="#cccccc", border_line_width=1,
                    background_fill_color="white", background_fill_alpha=0.8)
        p.add_layout(lg)
    return p


a1 = make_panel("G1PM2", A_G1PM2, A_G1PM2_FILL, A_G1PM2_EXTRA, 2105, (-106, 2218), 279, 54, 1, 29, 36, legend=True)
a2 = make_panel("G1PM3", A_G1PM3, A_G1PM3_FILL, A_G1PM3_EXTRA, 2100, (-103, 2197), 276, 53, 1, 29, 36)
a3 = make_panel("G1PM4", A_G1PM4, A_G1PM4_FILL, A_G1PM4_EXTRA, 2110, (-102, 2105), 267, 55, 0, 29, 36, open_right=True)

b1 = make_panel("G1PM2", B_G1PM2, B_G1PM2_FILL, B_G1PM2_EXTRA, 2120, (-103, 2237), 281, 52, 1, 43, 37, legend=True)
b2 = make_panel("G1PM3", B_G1PM3, B_G1PM3_FILL, B_G1PM3_EXTRA, 2100, (-105, 2203), 278, 51, 1, 43, 37)
b3 = make_panel("G1PM4", B_G1PM4, B_G1PM4_FILL, B_G1PM4_EXTRA, 2110, (-101, 2090), 267, 55, 0, 43, 37, open_right=True)


def caption(tag, text, h):
    html = ('<div style="width:986px;height:%dpx;line-height:%dpx;text-align:center;'
            'font-family:\'Liberation Serif\';font-size:20px;letter-spacing:0.9px;color:#000;'
            'padding-left:20px;box-sizing:border-box;white-space:nowrap;">(<b>%s</b>) %s</div>'
            % (h, h, tag, text))
    return Div(text=html, width=986, height=h, margin=0)


cap_a = caption("a", "Regression model derived only on chamber G1PM2", 40)
cap_b = caption("b", "Regression model derived only on chamber G1PM4", 32)

layout = column(row(a1, a2, a3, spacing=0), cap_a, row(b1, b2, b3, spacing=0), cap_b, spacing=0)

open("out.html", "w").write(file_html(layout, INLINE))
